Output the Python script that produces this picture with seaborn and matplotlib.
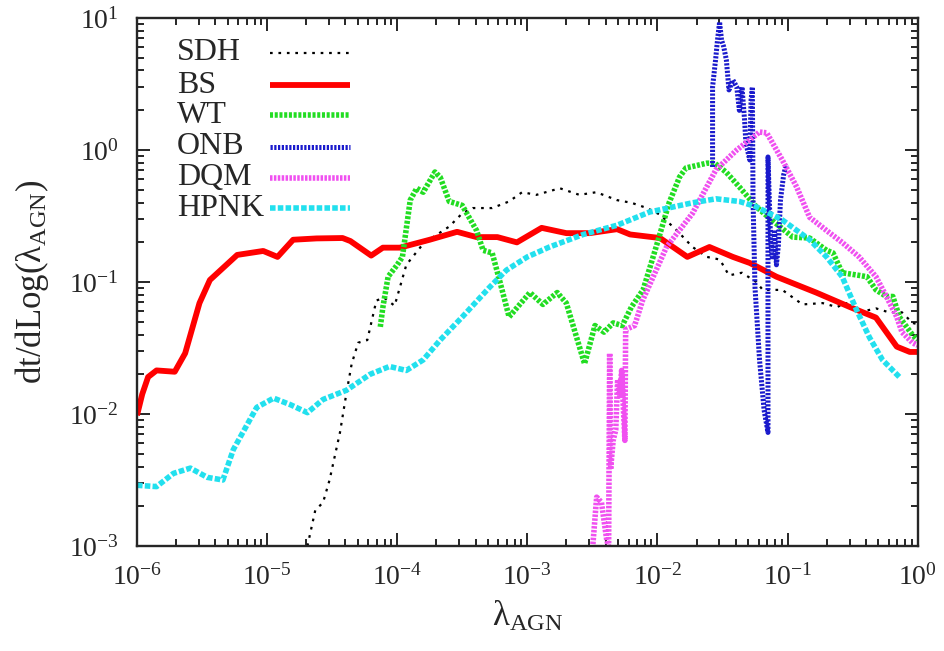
import numpy as np
import pandas as pd
import matplotlib
matplotlib.use("Agg")
import matplotlib.pyplot as plt
from matplotlib.lines import Line2D
import matplotlib.ticker as mticker
import seaborn as sns

# ---- data (log10 lambda_AGN, log10 dt/dLog) ----
sdh_logx = [-4.69, -4.63, -4.57, -4.52, -4.44, -4.39, -4.35, -4.30, -4.23, -4.16, -4.10, -4.02, -3.93, -3.80,
            -3.60, -3.50, -3.42, -3.27, -3.14, -3.04, -2.93, -2.75, -2.60, -2.47, -2.31, -2.20, -2.08, -1.98,
            -1.85, -1.73, -1.62, -1.52, -1.45, -1.35, -1.24, -1.19, -1.04, -0.885, -0.73, -0.62, -0.55, -0.45,
            -0.32, -0.22, -0.12, -0.04, 0.0]
sdh_logy = [-3.0, -2.73, -2.67, -2.5, -2.14, -1.84, -1.62, -1.46, -1.44, -1.14, -1.12, -1.18, -0.87, -0.71,
            -0.58, -0.48, -0.44, -0.44, -0.39, -0.32, -0.34, -0.29, -0.34, -0.32, -0.38, -0.40, -0.44, -0.49,
            -0.61, -0.735, -0.81, -0.83, -0.95, -0.93, -1.0, -1.06, -1.06, -1.17, -1.16, -1.19, -1.16, -1.23,
            -1.20, -1.23, -1.23, -1.31, -1.32]

bs_logx = [-6.0, -5.96, -5.915, -5.85, -5.71, -5.63, -5.52, -5.44, -5.23, -5.03, -4.92, -4.80, -4.62, -4.42,
           -4.36, -4.20, -4.11, -3.98, -3.75, -3.54, -3.39, -3.23, -3.08, -2.89, -2.70, -2.52, -2.31, -2.21,
           -1.98, -1.88, -1.77, -1.60, -1.42, -1.29, -1.085, -0.78, -0.52, -0.32, -0.16, -0.06, 0.0]
bs_logy = [-2.01, -1.85, -1.72, -1.67, -1.68, -1.54, -1.16, -0.985, -0.795, -0.765, -0.81, -0.68, -0.67, -0.667,
           -0.69, -0.80, -0.74, -0.74, -0.68, -0.62, -0.66, -0.66, -0.70, -0.59, -0.63, -0.63, -0.60, -0.64,
           -0.667, -0.735, -0.81, -0.735, -0.81, -0.856, -0.96, -1.08, -1.19, -1.27, -1.49, -1.53, -1.53]

wt_logx = [-4.13, -4.11, -4.07, -4.0, -3.96, -3.90, -3.85, -3.80, -3.71, -3.67, -3.60, -3.50, -3.39, -3.34,
           -3.27, -3.21, -3.14, -2.98, -2.88, -2.77, -2.70, -2.56, -2.48, -2.41, -2.34, -2.27, -2.20, -2.11,
           -2.01, -1.91, -1.83, -1.78, -1.62, -1.56, -1.47, -1.37, -1.24, -1.14, -0.96, -0.83, -0.70, -0.65,
           -0.58, -0.45, -0.39, -0.32, -0.24, -0.19, -0.14, -0.04, 0.0]
wt_logy = [-1.34, -1.19, -0.96, -0.87, -0.81, -0.38, -0.29, -0.32, -0.167, -0.205, -0.39, -0.42, -0.61, -0.76,
           -0.78, -1.0, -1.265, -1.08, -1.17, -1.08, -1.16, -1.62, -1.33, -1.38, -1.31, -1.33, -1.19, -1.06,
           -0.735, -0.40, -0.205, -0.136, -0.10, -0.10, -0.17, -0.28, -0.43, -0.515, -0.66, -0.667, -0.76, -0.78,
           -0.93, -0.95, -0.96, -1.06, -1.11, -1.11, -1.265, -1.40, -1.44]

onb_logx = [-1.576, -1.576, -1.553, -1.538, -1.522, -1.507, -1.49, -1.47, -1.45, -1.42, -1.39, -1.37, -1.35,
            -1.33, -1.32, -1.29, -1.28, -1.27, -1.265, -1.25, -1.215, -1.18, -1.15, -1.15, -1.13, -1.115, -1.10,
            -1.085, -1.07, -1.054, -1.03, -1.01]
onb_logy = [-0.129, 0.477, 0.682, 0.833, 0.97, 0.833, 0.78, 0.682, 0.455, 0.53, 0.477, 0.30, 0.477,
            0.227, 0.053, -0.076, 0.38, 0.477, -0.38, -1.04, -1.59, -1.97, -2.14, -0.053, -0.68, -0.83, -0.606,
            -0.87, -0.72, -0.38, -0.19, -0.11]

dqm_logx = [-2.498, -2.467, -2.43, -2.39, -2.375, -2.367, -2.36, -2.34, -2.32, -2.306, -2.29, -2.275, -2.25,
            -2.244, -2.175, -2.114, -1.93, -1.73, -1.55, -1.39, -1.215, -1.16, -1.04, -0.93, -0.83, -0.70,
            -0.58, -0.45, -0.32, -0.24, -0.16, -0.12, -0.04, 0.0]
dqm_logy = [-3.015, -2.63, -2.67, -2.95, -3.015, -1.54, -2.42, -2.20, -2.12, -1.74, -1.86, -1.67, -2.20,
            -1.36, -1.33, -1.14, -0.735, -0.48, -0.15, 0.0, 0.136, 0.13, -0.076, -0.28, -0.51, -0.61,
            -0.70, -0.81, -0.96, -1.11, -1.265, -1.38, -1.46, -1.48]

hpnk_logx = [-6.0, -5.85, -5.72, -5.59, -5.46, -5.34, -5.26, -5.08, -4.95, -4.82, -4.69, -4.57, -4.39, -4.21,
             -4.06, -3.93, -3.80, -3.67, -3.50, -3.29, -3.16, -3.0, -2.83, -2.57, -2.31, -2.06, -1.73, -1.55,
             -1.37, -1.24, -1.04, -0.83, -0.70, -0.58, -0.47, -0.37, -0.27, -0.14]
hpnk_logy = [-2.54, -2.55, -2.45, -2.41, -2.48, -2.50, -2.27, -1.95, -1.88, -1.93, -1.99, -1.89, -1.82, -1.70,
             -1.64, -1.67, -1.59, -1.44, -1.265, -1.04, -0.91, -0.81, -0.735, -0.64, -0.57, -0.47, -0.40, -0.37,
             -0.39, -0.43, -0.53, -0.68, -0.81, -0.96, -1.21, -1.42, -1.59, -1.72]

x_ticks = [1e-6, 1e-5, 1e-4, 1e-3, 1e-2, 1e-1, 1e0]
y_ticks = [1e-3, 1e-2, 1e-1, 1e0, 1e1]

series_names = ["SDH", "BS", "WT", "ONB", "DQM", "HPNK"]
series_data = {
    "SDH": (sdh_logx, sdh_logy),
    "BS": (bs_logx, bs_logy),
    "WT": (wt_logx, wt_logy),
    "ONB": (onb_logx, onb_logy),
    "DQM": (dqm_logx, dqm_logy),
    "HPNK": (hpnk_logx, hpnk_logy),
}

styles = {
    "SDH": dict(color="black", lw=1.6, ls=(0, (1.2, 2.6))),
    "BS": dict(color="#ff0000", lw=4.2, ls="-"),
    "WT": dict(color="#22dd22", lw=4.0, ls=(0, (0.55, 0.3))),
    "ONB": dict(color="#1a1acc", lw=3.6, ls=(0, (0.45, 0.3))),
    "DQM": dict(color="#f050f0", lw=4.0, ls=(0, (0.45, 0.25))),
    "HPNK": dict(color="#22e0ee", lw=4.0, ls=(0, (1.0, 0.4))),
}

# ---- style ----
sns.set_style("ticks")
plt.rcParams["font.family"] = ["Liberation Serif", "DejaVu Serif"]
plt.rcParams["mathtext.fontset"] = "custom"
plt.rcParams["mathtext.rm"] = "Liberation Serif"
plt.rcParams["mathtext.it"] = "Liberation Serif:italic"
plt.rcParams["mathtext.bf"] = "Liberation Serif:bold"

fig = plt.figure(figsize=(9.45, 6.51), dpi=100)
ax = fig.add_axes([0.145, 0.1613, 0.826, 0.8111])

for name in series_names:
    lx, ly = series_data[name]
    df = pd.DataFrame({"x": 10 ** np.array(lx), "y": 10 ** np.array(ly)})
    st = styles[name]
    sns.lineplot(data=df, x="x", y="y", ax=ax, sort=False, estimator=None,
                 color=st["color"], linewidth=st["lw"], linestyle=st["ls"],
                 solid_capstyle="butt", dash_capstyle="butt")

ax.set_xscale("log")
ax.set_yscale("log")
ax.set_xlim(1e-6, 1.0)
ax.set_ylim(1e-3, 10.0)

ax.xaxis.set_major_locator(mticker.FixedLocator(x_ticks))
ax.yaxis.set_major_locator(mticker.FixedLocator(y_ticks))
ax.xaxis.set_major_formatter(mticker.LogFormatterSciNotation())
ax.yaxis.set_major_formatter(mticker.LogFormatterSciNotation())
ax.xaxis.set_minor_locator(mticker.LogLocator(base=10, subs=np.arange(2, 10), numticks=20))
ax.yaxis.set_minor_locator(mticker.LogLocator(base=10, subs=np.arange(2, 10), numticks=20))
ax.xaxis.set_minor_formatter(mticker.NullFormatter())
ax.yaxis.set_minor_formatter(mticker.NullFormatter())

ax.tick_params(which="both", direction="in", top=True, right=True, labelsize=20, width=1.4)
ax.tick_params(which="major", length=9.5)
ax.tick_params(axis="x", which="major", pad=13)
ax.tick_params(axis="y", which="major", pad=13)
ax.tick_params(which="minor", length=5)
for sp in ax.spines.values():
    sp.set_linewidth(1.7)
    sp.set_visible(True)

ax.set_xlabel("λ$_{\\rm AGN}$", fontsize=25, labelpad=7)
ax.set_ylabel("dt/dLog(λ$_{\\rm AGN}$)", fontsize=25, labelpad=13)

# ---- legend (gnuplot style: text left, sample right) ----
leg_y = [0.934, 0.873, 0.816, 0.756, 0.697, 0.640]
for name, yy in zip(series_names, leg_y):
    st = styles[name]
    ax.text(0.051, yy, name, transform=ax.transAxes, ha="left", va="center", fontsize=23)
    ax.add_line(Line2D([0.170, 0.273], [yy, yy], transform=ax.transAxes,
                       color=st["color"], linewidth=st["lw"], linestyle=st["ls"],
                       solid_capstyle="butt", dash_capstyle="butt"))

fig.savefig("out.png", dpi=100)
